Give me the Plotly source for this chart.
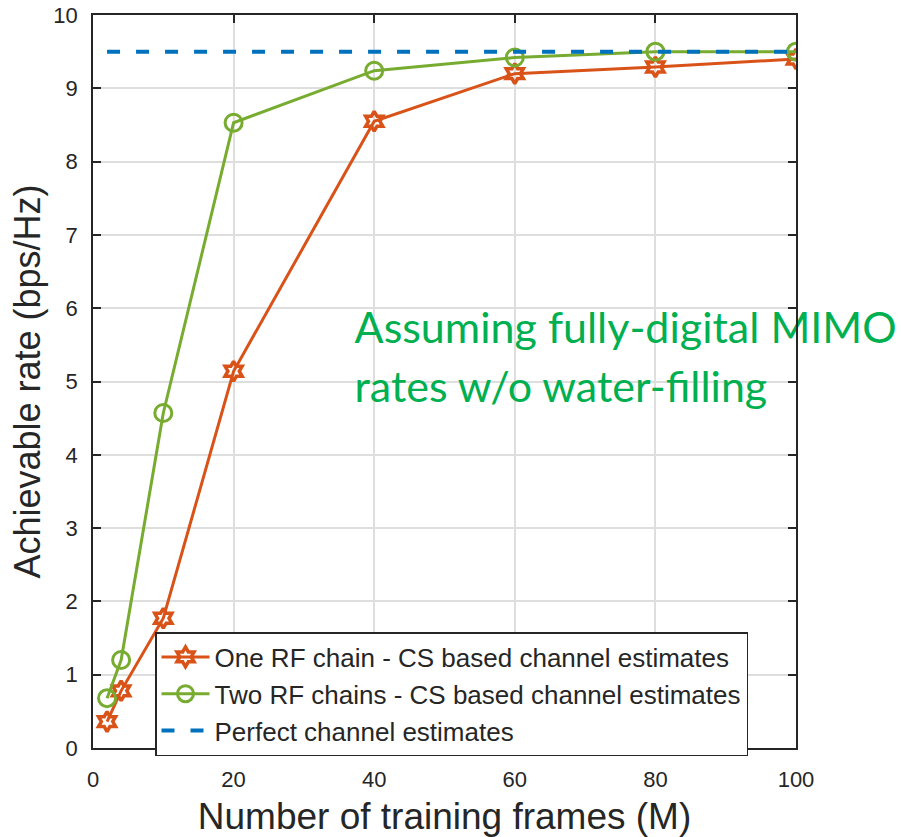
import plotly.graph_objects as go

# Training frames M
frames = [2, 4, 10, 20, 40, 60, 80, 100]
# Achievable rate (bps/Hz)
one_rf = [0.36, 0.78, 1.77, 5.14, 8.55, 9.20, 9.29, 9.40]
two_rf = [0.68, 1.20, 4.57, 8.53, 9.24, 9.42, 9.50, 9.50]
perfect_x = [2, 100]
perfect = [9.5, 9.5]

x_ticks = [0, 20, 40, 60, 80, 100]
y_ticks = list(range(0, 11))

note_lines = ["Assuming fully-digital MIMO", "rates w/o water-filling"]

ORANGE = "#D95319"
GREEN = "#77AC30"
BLUE = "#0072BD"
NOTE_GREEN = "#00B050"
AX = "#262626"
FONT = "Liberation Sans, Arial, Helvetica, sans-serif"
NOTE_FONT = "Lato, Open Sans, sans-serif"

fig = go.Figure()
fig.add_trace(go.Scatter(
    x=frames, y=one_rf, mode="lines+markers",
    name="One RF chain - CS based channel estimates",
    line=dict(color=ORANGE, width=3),
    marker=dict(symbol="hexagram-open", size=15, color=ORANGE,
                line=dict(color=ORANGE, width=3.5)),
))
fig.add_trace(go.Scatter(
    x=frames, y=two_rf, mode="lines+markers",
    name="Two RF chains - CS based channel estimates",
    line=dict(color=GREEN, width=3),
    marker=dict(symbol="circle-open", size=17, color=GREEN,
                line=dict(color=GREEN, width=3)),
))
fig.add_trace(go.Scatter(
    x=perfect_x, y=perfect, mode="lines",
    name="Perfect channel estimates",
    line=dict(color=BLUE, width=4, dash="13px,16px"),
))

# Green note as a text layer, so the axis frame is drawn over it
fig.add_trace(go.Scatter(
    x=[37.2, 37.2], y=[5.67, 4.87], mode="text",
    text=note_lines, textposition="middle right",
    textfont=dict(family=NOTE_FONT, size=43, color=NOTE_GREEN),
    showlegend=False, hoverinfo="skip", cliponaxis=False,
))

axis_common = dict(
    showline=True, linecolor=AX, linewidth=1.5, mirror="ticks",
    ticks="inside", ticklen=8, tickcolor=AX, tickwidth=1.5,
    showgrid=True, gridcolor="#dedede", gridwidth=1.5,
    zeroline=False, automargin=False,
    tickfont=dict(family=FONT, size=22, color=AX),
)

fig.update_xaxes(
    range=[0, 100], tickvals=x_ticks, ticklabelstandoff=11,
    title=dict(text="Number of training frames (M)", standoff=12,
               font=dict(family=FONT, size=37, color=AX)),
    **axis_common,
)
fig.update_yaxes(
    range=[0, 10], tickvals=y_ticks, ticklabelstandoff=9,
    title=dict(text="Achievable rate (bps/Hz)", standoff=2,
               font=dict(family=FONT, size=36, color=AX)),
    **axis_common,
)

fig.update_layout(
    width=901, height=837,
    margin=dict(l=93, r=105, t=15, b=89),
    paper_bgcolor="white", plot_bgcolor="white",
    showlegend=True,
    legend=dict(
        x=(155 - 93) / 703, y=(748 - 632) / 733, xanchor="left", yanchor="top",
        bgcolor="white", bordercolor=AX, borderwidth=1.5,
        font=dict(family=FONT, size=26, color=AX),
        itemwidth=48, tracegroupgap=0,
    ),
)

fig.write_html("out.html")
